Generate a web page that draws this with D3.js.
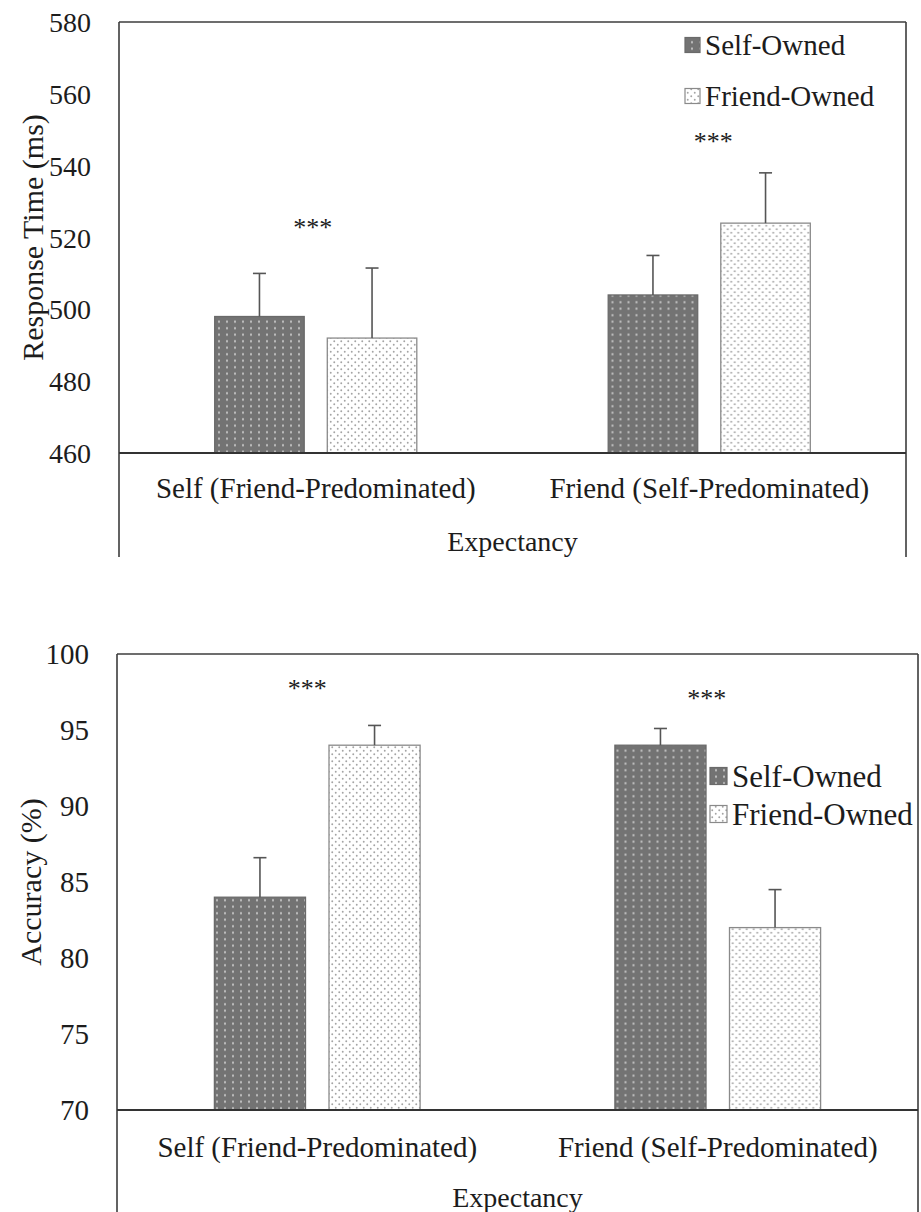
<!DOCTYPE html>
<html>
<head>
<meta charset="utf-8">
<script src="https://cdn.jsdelivr.net/npm/d3@7"></script>
<style>
  body { margin: 0; background: #fff; }
  svg { display: block; }
  svg text { font-family: "Liberation Serif", Tinos, "Times New Roman", Times, "DejaVu Serif", serif; fill: #1c1c1c; }
</style>
</head>
<body>
<svg id="chart" width="921" height="1212"></svg>
<script>
// Conditions and series
const categories = ["Self (Friend-Predominated)", "Friend (Self-Predominated)"];
const seriesNames = ["Self-Owned", "Friend-Owned"];

// Response time (ms): means and upper error limits
const rtSelfOwned = [498, 504];
const rtFriendOwned = [492, 524];
const rtSelfOwnedUpper = [510, 515];
const rtFriendOwnedUpper = [511.5, 538];
const rtTicks = [460, 480, 500, 520, 540, 560, 580];
const rtStarLevels = [524, 548];

// Accuracy (%): means and upper error limits
const accSelfOwned = [84, 94];
const accFriendOwned = [94, 82];
const accSelfOwnedUpper = [86.6, 95.1];
const accFriendOwnedUpper = [95.3, 84.5];
const accTicks = [70, 75, 80, 85, 90, 95, 100];
const accStarLevels = [98, 97.4];

const starLabel = "***";
const xTitle = "Expectancy";
const serif = '"Liberation Serif", Tinos, "Times New Roman", Times, "DejaVu Serif", serif';

const svg = d3.select("#chart");
const defs = svg.append("defs");

// Dark fill with rows of light dots
const pSelf = defs.append("pattern").attr("id", "selfFill")
  .attr("patternUnits", "userSpaceOnUse").attr("width", 8).attr("height", 6.5);
pSelf.append("rect").attr("width", 8).attr("height", 6.5).attr("fill", "#737373");
pSelf.append("rect").attr("x", 3.3).attr("y", 2.2).attr("width", 1.4).attr("height", 2)
  .attr("fill", "#e6e6e6");

// White fill with staggered grey dots
const pFriend = defs.append("pattern").attr("id", "friendFill")
  .attr("patternUnits", "userSpaceOnUse").attr("width", 7).attr("height", 7);
pFriend.append("rect").attr("width", 7).attr("height", 7).attr("fill", "#ffffff");
pFriend.append("circle").attr("cx", 1.75).attr("cy", 1.75).attr("r", 0.95).attr("fill", "#a4a4a4");
pFriend.append("circle").attr("cx", 5.25).attr("cy", 5.25).attr("r", 0.95).attr("fill", "#a4a4a4");

const fills = ["url(#selfFill)", "url(#friendFill)"];
const strokes = ["#6a6a6a", "#8a8a8a"];

function drawPanel(cfg) {
  const g = svg.append("g").attr("font-family", serif);

  const x0 = d3.scaleBand().domain(categories).range([cfg.left, cfg.right]).padding(0);
  const x1 = d3.scaleBand().domain(seriesNames).range([0, x0.bandwidth()])
    .paddingInner(0.205).paddingOuter(0.85);
  const y = d3.scaleLinear().domain(cfg.domain).range([cfg.base, cfg.top]);

  const rows = categories.map((c, i) => ({
    cat: c,
    vals: [
      { s: seriesNames[0], v: cfg.self[i], up: cfg.selfUp[i] },
      { s: seriesNames[1], v: cfg.friend[i], up: cfg.friendUp[i] }
    ]
  }));

  // Y tick labels
  const yAxis = d3.axisLeft(y).tickValues(cfg.ticks).tickSize(0).tickPadding(0)
    .tickFormat(d3.format("d"));
  const ya = g.append("g").attr("transform", `translate(${cfg.tickX},0)`).call(yAxis);
  ya.attr("font-family", serif).attr("font-size", cfg.tickFont);
  ya.select(".domain").remove();
  ya.selectAll("text").attr("font-size", cfg.tickFont)
    .style("font-family", serif).attr("fill", "#1c1c1c")
    .attr("dy", "0.34em").attr("x", 0);

  // Bars
  const groups = g.selectAll(".grp").data(rows).join("g")
    .attr("transform", d => `translate(${x0(d.cat)},0)`);
  groups.selectAll("rect").data(d => d.vals).join("rect")
    .attr("x", d => x1(d.s))
    .attr("y", d => y(d.v))
    .attr("width", x1.bandwidth())
    .attr("height", d => y(cfg.domain[0]) - y(d.v))
    .attr("fill", (d, i) => fills[i])
    .attr("stroke", (d, i) => strokes[i])
    .attr("stroke-width", 1.3);

  // Error bars (upper only, with cap)
  const eb = groups.selectAll(".eb").data(d => d.vals).join("g");
  eb.append("line")
    .attr("x1", d => x1(d.s) + x1.bandwidth() / 2)
    .attr("x2", d => x1(d.s) + x1.bandwidth() / 2)
    .attr("y1", d => y(d.v)).attr("y2", d => y(d.up))
    .attr("stroke", "#555").attr("stroke-width", 1.6);
  eb.append("line")
    .attr("x1", d => x1(d.s) + x1.bandwidth() / 2 - 6.5)
    .attr("x2", d => x1(d.s) + x1.bandwidth() / 2 + 6.5)
    .attr("y1", d => y(d.up)).attr("y2", d => y(d.up))
    .attr("stroke", "#555").attr("stroke-width", 1.6);

  // Significance markers
  g.selectAll(".star").data(categories).join("text")
    .attr("x", (d, i) => x0(d) + x0.bandwidth() / 2 + cfg.starShift[i])
    .attr("y", (d, i) => y(cfg.stars[i]) + cfg.starFont * 0.5)
    .attr("text-anchor", "middle")
    .attr("font-size", cfg.starFont)
    .text(starLabel);

  // Frame
  const frame = g.append("g").attr("stroke", "#3c3c3c").attr("stroke-width", 1.6).attr("fill", "none");
  frame.append("line").attr("x1", cfg.left).attr("x2", cfg.right).attr("y1", cfg.top).attr("y2", cfg.top);
  frame.append("line").attr("x1", cfg.left).attr("x2", cfg.left).attr("y1", cfg.top).attr("y2", cfg.frameBottom);
  frame.append("line").attr("x1", cfg.right).attr("x2", cfg.right).attr("y1", cfg.top).attr("y2", cfg.frameBottom);
  frame.append("line").attr("x1", cfg.left).attr("x2", cfg.right).attr("y1", cfg.base).attr("y2", cfg.base)
    .attr("stroke", "#333").attr("stroke-width", 2.2);

  // Category labels
  g.selectAll(".cat").data(categories).join("text")
    .attr("x", d => x0(d) + x0.bandwidth() / 2)
    .attr("y", cfg.catY)
    .attr("text-anchor", "middle")
    .attr("dominant-baseline", "central")
    .attr("font-size", cfg.catFont)
    .text(d => d);

  // Axis titles
  g.append("text")
    .attr("x", (cfg.left + cfg.right) / 2).attr("y", cfg.expY)
    .attr("text-anchor", "middle").attr("dominant-baseline", "central")
    .attr("font-size", cfg.expFont)
    .text(xTitle);
  g.append("text")
    .attr("transform", `translate(${cfg.titleX},${(cfg.top + cfg.base) / 2}) rotate(-90)`)
    .attr("text-anchor", "middle").attr("dominant-baseline", "central")
    .attr("font-size", cfg.titleFont)
    .text(cfg.yTitle);

  // Legend
  const lg = g.append("g");
  seriesNames.forEach((s, i) => {
    lg.append("rect")
      .attr("x", cfg.legX).attr("y", cfg.legY[i] - cfg.legBox / 2)
      .attr("width", cfg.legBox).attr("height", cfg.legBox)
      .attr("fill", fills[i]).attr("stroke", strokes[i]).attr("stroke-width", 1.2);
    lg.append("text")
      .attr("x", cfg.legX + cfg.legBox + 5).attr("y", cfg.legY[i])
      .attr("dominant-baseline", "central")
      .attr("font-size", cfg.legFont)
      .text(s);
  });
}

drawPanel({
  left: 119, right: 906, top: 22, base: 453, frameBottom: 557,
  domain: [460, 580], ticks: rtTicks,
  self: rtSelfOwned, friend: rtFriendOwned,
  selfUp: rtSelfOwnedUpper, friendUp: rtFriendOwnedUpper,
  stars: rtStarLevels, starShift: [-3, 4], starFont: 26,
  tickX: 91, tickFont: 28,
  titleX: 32, titleFont: 30, yTitle: "Response Time (ms)",
  catY: 488, expY: 541, catFont: 29, expFont: 28,
  legX: 685, legY: [45, 96], legBox: 15, legFont: 29
});

drawPanel({
  left: 117, right: 918, top: 654, base: 1110, frameBottom: 1212,
  domain: [70, 100], ticks: accTicks,
  self: accSelfOwned, friend: accFriendOwned,
  selfUp: accSelfOwnedUpper, friendUp: accFriendOwnedUpper,
  stars: accStarLevels, starShift: [-10, -11], starFont: 26,
  tickX: 89, tickFont: 29,
  titleX: 30, titleFont: 30, yTitle: "Accuracy (%)",
  catY: 1147, expY: 1197, catFont: 29, expFont: 28,
  legX: 710, legY: [776, 814], legBox: 17, legFont: 31
});
</script>
</body>
</html>
